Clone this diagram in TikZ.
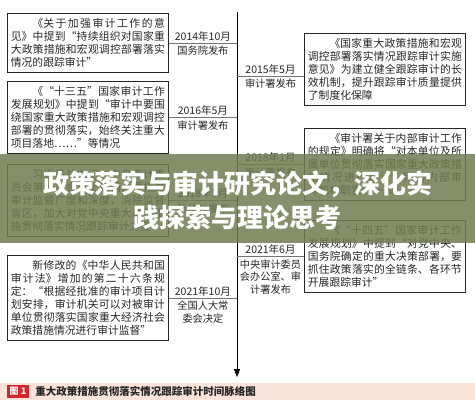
\documentclass[tikz,border=0pt]{standalone}
\usepackage{fontspec}
\newfontfamily\cjk{Noto Sans CJK SC}
\XeTeXlinebreaklocale "zh"
\XeTeXlinebreakskip=0pt plus 1pt
\usetikzlibrary{arrows.meta,positioning}
\definecolor{bannergreen}{RGB}{112,125,82}
\definecolor{capbg}{RGB}{250,228,218}
\definecolor{tagred}{RGB}{214,38,44}

\begin{document}
\begin{tikzpicture}[x=1pt,y=-1pt,
    note/.style={draw=black!85,line width=0.8pt,anchor=north west,text width=154pt,
      inner xsep=3.5pt,inner ysep=5pt,align=justify,text=black!85,
      font=\cjk\fontsize{10.8}{13}\selectfont},
    date/.style={above,inner sep=1.5pt,text=black!85,font=\cjk\fontsize{10.5}{12}\selectfont},
    issuer/.style={below,inner sep=3pt,align=center,text=black!85,
      font=\cjk\fontsize{10.2}{12.5}\selectfont},
    link/.style={draw=black!55,line width=0.7pt}]
  \useasboundingbox (0,0) rectangle (475,400);
  \fill[white] (0,0) rectangle (475,400);
  % timeline
  \coordinate (axis) at (237,12);
  \coordinate (axis end) at (237,377);
  \draw[line width=0.9pt,-{Triangle[width=6pt,length=8pt]}] (axis) -- (axis end);
  % left column
  \node [note] (L1) at (7,13)  {\hspace*{2em}《关于加强审计工作的意\linebreak 见》中提到“持续组织对国家重\linebreak 大政策措施和宏观调控部署落实\linebreak 情况的跟踪审计”};
  \node [note] (L2) at (7,81)  {\hspace*{2em}《“十三五”国家审计工作\linebreak 发展规划》中提到“审计中要围\linebreak 绕国家重大政策措施和宏观调控\linebreak 部署的贯彻落实，始终关注重大\linebreak 项目落地……”等情况};
  \node [note] (L3) at (7,164) {\hspace*{2em}习近平总书记在中央审计委\linebreak 员会第一次会议上强调，要拓展\linebreak 审计监督广度和深度，消除监督\linebreak 盲区，加大对党中央重大政策措\linebreak 施贯彻落实情况跟踪审计力度};
  \node [note] (L4) at (7,255) {\hspace*{2em}新修改的《中华人民共和国\linebreak 审计法》增加的第二十六条规\linebreak 定：“根据经批准的审计项目计\linebreak 划安排，审计机关可以对被审计\linebreak 单位贯彻落实国家重大经济社会\linebreak 政策措施情况进行审计监督”};
  % right column
  \node [note] (R1) at (304,33)  {\hspace*{2em}《国家重大政策措施和宏观\linebreak 调控部署落实情况跟踪审计实施\linebreak 意见》为建立健全跟踪审计的长\linebreak 效机制，提升跟踪审计质量提供\linebreak 了制度化保障};
  \node [note] (R2) at (304,128) {\hspace*{2em}《审计署关于内部审计工作\linebreak 的规定》明确将“对本单位及所\linebreak 属单位贯彻落实国家重大政策措\linebreak 施情况进行审计”列为内部审\linebreak 计机构职责的一项};
  \node [note] (R3) at (304,220) {\hspace*{2em}《“十四五”国家审计工作\linebreak 发展规划》中提到“对党中央、\linebreak 国务院确定的重大决策部署，要\linebreak 抓住政策落实的全链条、各环节\linebreak 开展跟踪审计”};
  \coordinate (R1 link) at ([yshift=-6.5pt]R1.west);
  % links to the timeline
  \path[link]
    (L1) edge node[date] {2014年10月} node[issuer] {国务院发布} (L1 -| axis)
    (R1 link) edge node[date] {2015年5月} node[issuer] {审计署发布} (R1 link -| axis)
    (L2) edge node[date] {2016年5月} node[issuer] {审计署发布} (L2 -| axis)
    (R2) edge node[date] {2018年1月} node[issuer] {审计署发布} (R2 -| axis)
    (L3) edge node[date] {2018年5月} node[issuer] {新华社发布} (L3 -| axis)
    (R3) edge node[date] {2021年6月} node[issuer] {中央审计委员\\会办公室、审\\计署发布} (R3 -| axis)
    (L4) edge node[date] {2021年10月} node[issuer] {全国人大常\\委会决定} (L4 -| axis);
  % banner
  \fill[bannergreen,fill opacity=0.85] (0,154) rectangle (475,243);
  \node [text=white,align=center,font=\cjk\bfseries\fontsize{26}{34}\selectfont] (head) at (238,200)
    {政策落实与审计研究论文，深化实\\践探索与理论思考};
  % caption
  \fill[capbg] (0,383) rectangle (475,400);
  \node [fill=tagred,text=white,minimum width=22pt,minimum height=13pt,inner sep=0pt,
    font=\cjk\bfseries\fontsize{9}{10}\selectfont] (fig) at (18,391.5) {图 1};
  \node [right=6pt of fig,inner sep=0pt,text=black!85,font=\cjk\bfseries\fontsize{10.5}{12}\selectfont] (cap)
    {重大政策措施贯彻落实情况跟踪审计时间脉络图};
\end{tikzpicture}
\end{document}
